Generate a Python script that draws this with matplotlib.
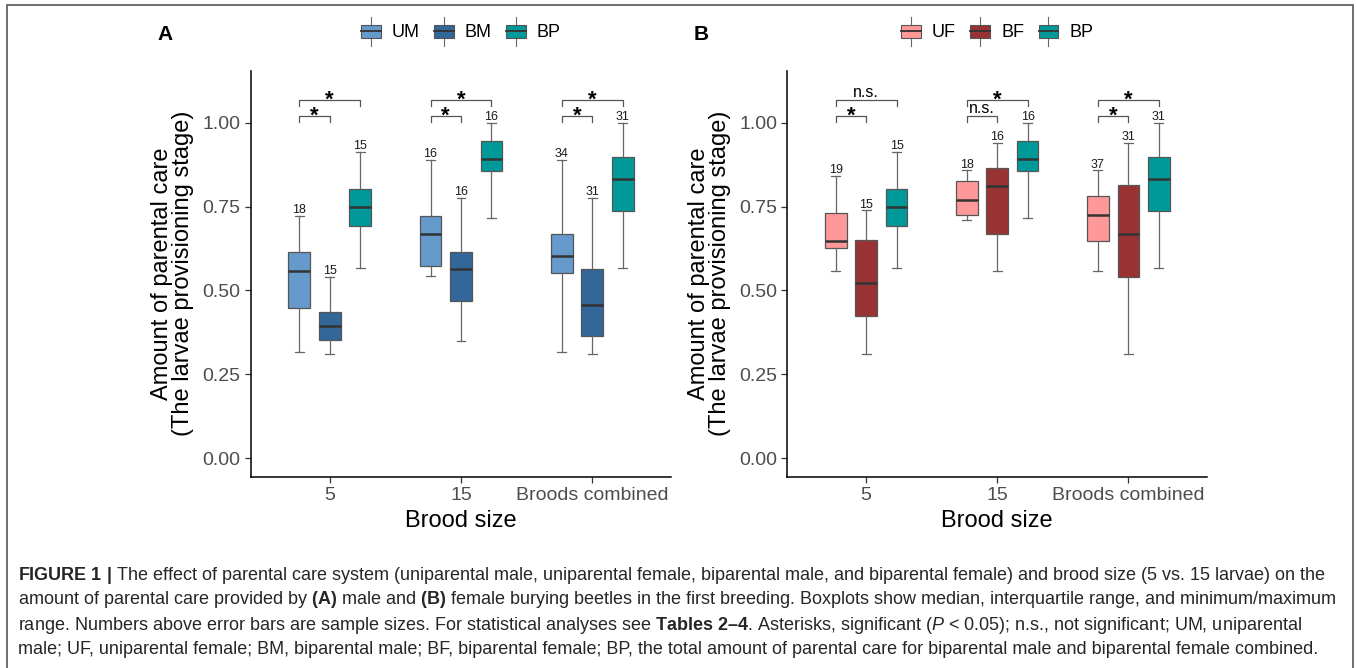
import matplotlib as mpl
import matplotlib.pyplot as plt
from matplotlib.legend_handler import HandlerBase
from matplotlib.lines import Line2D
from matplotlib.patches import Patch, Rectangle

# Brood size groups on the x axis
groups = ["5", "15", "Broods combined"]

# Box statistics per group: [min, q1, median, q3, max]
um_stats = [[0.316, 0.447, 0.557, 0.614, 0.723],
            [0.543, 0.574, 0.667, 0.723, 0.889],
            [0.316, 0.552, 0.602, 0.667, 0.889]]
bm_stats = [[0.310, 0.353, 0.393, 0.437, 0.540],
            [0.348, 0.468, 0.564, 0.616, 0.777],
            [0.310, 0.364, 0.457, 0.564, 0.777]]
bp_stats = [[0.567, 0.693, 0.750, 0.802, 0.912],
            [0.716, 0.857, 0.891, 0.946, 0.999],
            [0.567, 0.736, 0.832, 0.898, 0.999]]
uf_stats = [[0.557, 0.626, 0.648, 0.730, 0.842],
            [0.709, 0.725, 0.770, 0.827, 0.858],
            [0.557, 0.647, 0.725, 0.783, 0.858]]
bf_stats = [[0.310, 0.425, 0.522, 0.649, 0.739],
            [0.557, 0.667, 0.812, 0.866, 0.941],
            [0.310, 0.539, 0.667, 0.813, 0.941]]

# Sample sizes
n_um = [18, 16, 34]
n_bm = [15, 16, 31]
n_bp = [15, 16, 31]
n_uf = [19, 18, 37]
n_bf = [15, 16, 31]

# Significance: uniparental vs biparental (low bracket), uniparental vs BP (high bracket)
sig_a_low = ["*", "*", "*"]
sig_a_high = ["*", "*", "*"]
sig_b_low = ["*", "n.s.", "*"]
sig_b_high = ["n.s.", "*", "*"]

colori_a = ["#6699CC", "#336699", "#009999"]
colori_b = ["#FF9999", "#993333", "#009999"]

caption = [
    r"$\mathbf{FIGURE\ 1\ |}$ The effect of parental care system (uniparental male, uniparental female, "
    r"biparental male, and biparental female) and brood size (5 vs. 15 larvae) on the",
    r"amount of parental care provided by $\mathbf{(A)}$ male and $\mathbf{(B)}$ female burying beetles "
    r"in the first breeding. Boxplots show median, interquartile range, and minimum/maximum",
    r"range. Numbers above error bars are sample sizes. For statistical analyses see $\mathbf{Tables\ 2–4}$. "
    r"Asterisks, significant ($\mathit{P}$ < 0.05); n.s., not significant; UM, uniparental",
    "male; UF, uniparental female; BM, biparental male; BF, biparental female; BP, the total amount "
    "of parental care for biparental male and biparental female combined.",
]

OFFSET = 0.232
BOX_W = 0.165


class HandlerBox(HandlerBase):
    """ Chiave legenda stile ggplot boxplot """

    def create_artists(self, legend, orig_handle, xdescent, ydescent,
                       width, height, fontsize, trans):
        x0, y0 = -xdescent, -ydescent
        cx, cy = x0 + width / 2, y0 + height / 2
        whisker = Line2D([cx, cx], [cy - 1.1 * height, cy + 1.1 * height],
                         color="#666666", lw=0.8, transform=trans)
        box = Rectangle((x0, y0), width, height, facecolor=orig_handle.get_facecolor(),
                        edgecolor="#555555", lw=0.8, transform=trans)
        med = Line2D([x0, x0 + width], [cy, cy], color="#333333", lw=1.3, transform=trans)
        return [whisker, box, med]


def to_bxp(stats):
    return [dict(whislo=s[0], q1=s[1], med=s[2], q3=s[3], whishi=s[4], fliers=[])
            for s in stats]


def add_bracket(ax, x1, x2, y, label):
    tick = 0.018
    ax.plot([x1, x1, x2, x2], [y - tick, y, y, y - tick], color="#555555", lw=0.9,
            clip_on=False)
    if label == "*":
        ax.annotate(label, xy=((x1 + x2) / 2, y), xytext=(0, -4), textcoords="offset points",
                    ha="center", va="baseline", fontsize=16, fontweight="bold")
    else:
        ax.annotate(label, xy=((x1 + x2) / 2, y), xytext=(0, 2), textcoords="offset points",
                    ha="center", va="baseline", fontsize=11.5)


def plot_panel(ax, serie, numeri, colori, sig_low, sig_high, etichette, lettera):
    x = range(1, len(groups) + 1)
    for k, (stats, n, col) in enumerate(zip(serie, numeri, colori)):
        pos = [xi + (k - 1) * OFFSET for xi in x]
        ax.bxp(to_bxp(stats), positions=pos, widths=BOX_W, capwidths=0.068,
               patch_artist=True, showfliers=False,
               boxprops=dict(facecolor=col, edgecolor="#555555", lw=0.9),
               medianprops=dict(color="#333333", lw=1.8),
               whiskerprops=dict(color="#666666", lw=0.9),
               capprops=dict(color="#666666", lw=0.9))
        for p, s, nn in zip(pos, stats, n):
            ax.annotate(str(nn), xy=(p, s[4]), xytext=(0, 2), textcoords="offset points",
                        ha="center", va="baseline", fontsize=9, color="#1a1a1a")

    for xi, lo, hi in zip(x, sig_low, sig_high):
        add_bracket(ax, xi - OFFSET, xi, 1.02, lo)
        add_bracket(ax, xi - OFFSET, xi + OFFSET, 1.068, hi)

    ax.set_xlim(0.4, 3.6)
    ax.set_ylim(-0.055, 1.155)
    ax.set_xticks(list(x))
    ax.set_xticklabels(groups)
    ax.set_yticks([0, 0.25, 0.5, 0.75, 1.0])
    ax.set_yticklabels(["0.00", "0.25", "0.50", "0.75", "1.00"])
    ax.tick_params(labelsize=14, labelcolor="#4D4D4D", color="#333333", length=4, width=0.9)
    for lato in ["top", "right"]:
        ax.spines[lato].set_visible(False)
    for lato in ["left", "bottom"]:
        ax.spines[lato].set_linewidth(1.1)
    ax.set_xlabel("Brood size", fontsize=17, labelpad=4)
    ax.set_ylabel("Amount of parental care\n(The larvae provisioning stage)", fontsize=17,
                  labelpad=6, linespacing=0.95)

    handles = [Patch(facecolor=c) for c in colori]
    ax.legend(handles, etichette, handler_map={Patch: HandlerBox()}, loc="center",
              bbox_to_anchor=(0.5, 1.0929), ncol=3, frameon=False,
              fontsize=13, handlelength=1.1, handleheight=0.75, handletextpad=0.6,
              columnspacing=0.8, borderaxespad=0)
    ax.text(-0.205, 1.09, lettera, transform=ax.transAxes, fontsize=15, fontweight="bold",
            ha="center", va="center")


if __name__ == "__main__":
    plt.rcParams["font.family"] = ["Liberation Sans", "DejaVu Sans"]
    plt.rcParams["mathtext.fontset"] = "custom"
    plt.rcParams["mathtext.rm"] = "Liberation Sans"
    plt.rcParams["mathtext.bf"] = "Liberation Sans:bold"
    plt.rcParams["mathtext.it"] = "Liberation Sans:italic"

    fig = plt.figure(figsize=(13.57, 6.68), dpi=100)

    ax_a = fig.add_axes([0.18497, 0.28638, 0.30951, 0.60778])
    ax_b = fig.add_axes([0.58032, 0.28638, 0.30914, 0.60778])

    plot_panel(ax_a, [um_stats, bm_stats, bp_stats], [n_um, n_bm, n_bp], colori_a,
               sig_a_low, sig_a_high, ["UM", "BM", "BP"], "A")
    plot_panel(ax_b, [uf_stats, bf_stats, bp_stats], [n_uf, n_bf, n_bp], colori_b,
               sig_b_low, sig_b_high, ["UF", "BF", "BP"], "B")

    # cornice della figura
    fig.add_artist(Rectangle((7.3 / 1357, -0.1), (1352.5 - 7.3) / 1357, 1.1 - 5.3 / 668,
                             transform=fig.transFigure, fill=False, edgecolor="#555555",
                             lw=1.2))

    for i, riga in enumerate(caption):
        fig.text(18 / 1357, 1 - (575 + 25 * i) / 668, riga, fontsize=13.0, color="#262626",
                 ha="left", va="center")

    fig.savefig("out.png", dpi=100)
